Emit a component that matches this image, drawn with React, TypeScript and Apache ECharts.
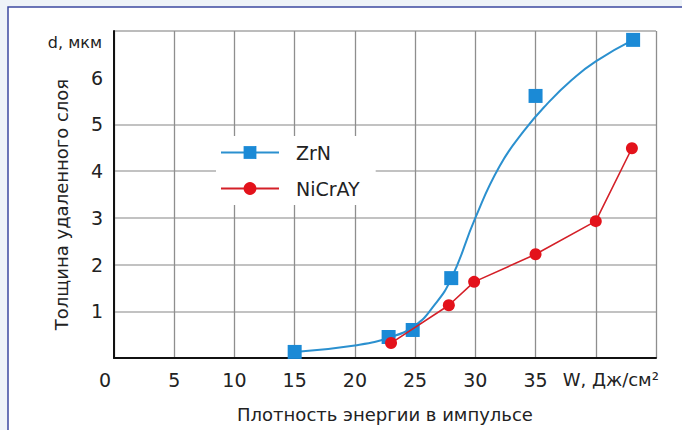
import React, { useEffect, useRef } from 'react';
import * as echarts from 'echarts';

// Markers
const zrnX = [15, 22.8, 24.8, 28, 35, 43.1];
const zrnY = [0.13, 0.45, 0.6, 1.71, 5.61, 6.81];
const nicrayX = [23, 27.8, 29.9, 35, 40, 43];
const nicrayY = [0.32, 1.13, 1.63, 2.22, 2.93, 4.49];
// Fitted ZrN curve
const fitX = [15, 20, 23, 25, 26.5, 28, 30, 32, 34, 36, 38, 40, 43.1];
const fitY = [0.13, 0.27, 0.45, 0.7, 1.1, 1.7, 3.0, 4.1, 4.85, 5.45, 5.95, 6.35, 6.81];

const xLabels = ['0', '5', '10', '15', '20', '25', '30', '35'];
const xUnitLabel = 'W, Дж/см²';
const yLabels = ['1', '2', '3', '4', '5', '6'];
const yUnitLabel = 'd, мкм';
const xName = 'Плотность энергии в импульсе';
const yName = 'Толщина удаленного слоя';

const FONT = 'DejaVu Sans';

export default function App() {
  const ref = useRef<HTMLDivElement>(null);
  useEffect(() => {
    const chart = echarts.init(ref.current!, null, { renderer: 'svg' });
    const pairs = (xs: number[], ys: number[]) => xs.map((x, i) => [x, ys[i]]);
    chart.setOption({
      animation: false,
      backgroundColor: '#eef3f8',
      textStyle: { fontFamily: FONT },
      graphic: [
        {
          type: 'rect',
          z: -10,
          shape: { x: 8, y: 7, width: 700, height: 450 },
          style: { fill: '#ffffff', stroke: '#3c4aa0', lineWidth: 1.5 },
        },
        {
          type: 'text',
          x: 102,
          y: 42,
          style: {
            text: yUnitLabel,
            align: 'right',
            verticalAlign: 'middle',
            fontSize: 16,
            fill: '#222',
            fontFamily: FONT,
          },
        },
      ],
      grid: { left: 114, top: 31, right: 26, bottom: 72 },
      legend: {
        data: [
          { name: 'ZrN', lineStyle: { opacity: 1, width: 2, color: '#2b90cf' } },
          { name: 'NiCrAY' },
        ],
        orient: 'vertical',
        left: 216,
        top: 136,
        backgroundColor: '#ffffff',
        padding: [7, 16, 7, 4],
        itemWidth: 58,
        itemHeight: 16,
        itemGap: 17,
        textStyle: { fontSize: 19, color: '#222', fontFamily: FONT, padding: [0, 0, 0, 12] },
      },
      xAxis: {
        type: 'value',
        min: 0,
        max: 45,
        interval: 5,
        name: xName,
        nameLocation: 'middle',
        nameGap: 47,
        nameTextStyle: { fontSize: 18, color: '#222', fontFamily: FONT },
        axisLine: { lineStyle: { color: '#111', width: 2 } },
        axisTick: { show: false },
        axisLabel: {
          fontSize: 19,
          color: '#222',
          fontFamily: FONT,
          margin: 12,
          formatter: (v: number) => {
            const i = Math.round(v / 5);
            if (i === 0) return '{z|' + xLabels[0] + '}';
            if (i < xLabels.length) return xLabels[i];
            if (i === xLabels.length) return '{w|' + xUnitLabel + '}';
            return '';
          },
          rich: {
            z: { padding: [0, 18, 0, 0], fontSize: 19, color: '#222', fontFamily: FONT },
            w: { padding: [0, 0, 0, 30], fontSize: 18, color: '#222', fontFamily: FONT },
          },
        },
        splitLine: {
          show: true,
          lineStyle: { color: '#8e8e8e', width: 1.3 },
        },
      },
      yAxis: {
        type: 'value',
        min: 0,
        max: 7,
        interval: 1,
        name: yName,
        nameLocation: 'middle',
        nameGap: 44,
        nameRotate: 90,
        nameTextStyle: { fontSize: 18, color: '#222', fontFamily: FONT, padding: [0, 20, 0, 0] },
        axisLine: { show: true, lineStyle: { color: '#111', width: 2 } },
        axisTick: { show: false },
        axisLabel: {
          fontSize: 19,
          color: '#222',
          fontFamily: FONT,
          margin: 11,
          formatter: (v: number) => (v >= 1 && v <= yLabels.length ? yLabels[v - 1] : ''),
        },
        splitLine: {
          show: true,
          lineStyle: {
            color: ['#c2c2c2', '#c2c2c2', '#c2c2c2', '#c2c2c2', '#c2c2c2', '#c2c2c2', 'rgba(0,0,0,0)', '#bcbcbc'],
            width: 1.8,
          },
        },
      },
      series: [
        {
          name: 'ZrN fit',
          type: 'line',
          data: pairs(fitX, fitY),
          smooth: 0.5,
          showSymbol: false,
          symbol: 'none',
          lineStyle: { color: '#2b90cf', width: 2 },
          z: 2,
        },
        {
          name: 'ZrN',
          type: 'line',
          data: pairs(zrnX, zrnY),
          symbol: 'rect',
          symbolSize: 14,
          itemStyle: { color: '#1b8ad6' },
          lineStyle: { opacity: 0, color: '#2b90cf' },
          z: 3,
        },
        {
          name: 'NiCrAY',
          type: 'line',
          data: pairs(nicrayX, nicrayY),
          symbol: 'circle',
          symbolSize: 12,
          itemStyle: { color: '#e3121b' },
          lineStyle: { color: '#d42028', width: 1.6 },
          z: 4,
        },
      ],
    });
    return () => chart.dispose();
  }, []);
  return <div ref={ref} style={{ position: 'fixed', left: 0, top: 0, width: 682, height: 430 }} />;
}
